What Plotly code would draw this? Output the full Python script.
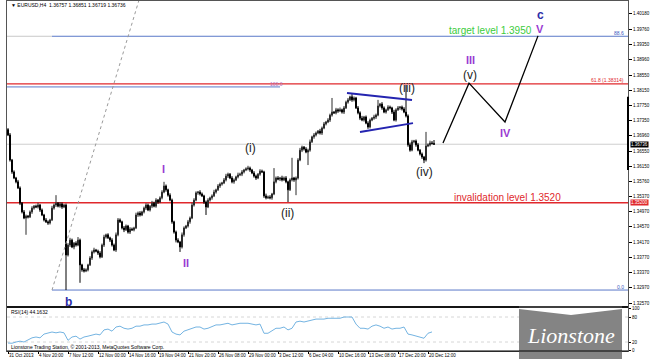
import plotly.graph_objects as go

# ---------------- data ----------------
first_open = 1.3712
closes = [
    1.3698,1.3632,1.3601,1.3585,1.3575,1.3559,1.3519,1.3496,1.3480,1.3485,
    1.3483,1.3496,1.3506,1.3511,1.3509,1.3514,1.3501,1.3488,1.3475,1.3470,
    1.3467,1.3475,1.3506,1.3514,1.3519,1.3511,1.3517,1.3509,1.3514,1.3383,
    1.3409,1.3422,1.3404,1.3414,1.3409,1.3422,1.3357,1.3344,1.3341,1.3344,
    1.3357,1.3375,1.3391,1.3396,1.3393,1.3388,1.3378,1.3409,1.3430,1.3436,
    1.3428,1.3422,1.3409,1.3396,1.3436,1.3475,1.3470,1.3454,1.3449,1.3459,
    1.3443,1.3451,1.3449,1.3454,1.3488,1.3493,1.3488,1.3496,1.3506,1.3514,
    1.3501,1.3511,1.3519,1.3511,1.3527,1.3522,1.3533,1.3548,1.3564,1.3554,
    1.3540,1.3527,1.3470,1.3443,1.3422,1.3417,1.3404,1.3436,1.3454,1.3459,
    1.3470,1.3480,1.3514,1.3527,1.3546,1.3548,1.3543,1.3538,1.3522,1.3509,
    1.3527,1.3533,1.3538,1.3548,1.3554,1.3564,1.3569,1.3572,1.3580,1.3590,
    1.3595,1.3585,1.3575,1.3580,1.3588,1.3593,1.3595,1.3601,1.3606,1.3609,
    1.3611,1.3606,1.3598,1.3590,1.3585,1.3595,1.3603,1.3601,1.3538,1.3533,
    1.3535,1.3533,1.3543,1.3575,1.3585,1.3582,1.3585,1.3580,1.3585,1.3575,
    1.3554,1.3580,1.3585,1.3580,1.3585,1.3632,1.3658,1.3666,1.3661,1.3653,
    1.3658,1.3680,1.3693,1.3698,1.3703,1.3708,1.3703,1.3716,1.3727,1.3732,
    1.3737,1.3750,1.3758,1.3756,1.3764,1.3761,1.3764,1.3758,1.3769,1.3784,
    1.3790,1.3798,1.3790,1.3795,1.3769,1.3756,1.3742,1.3737,1.3745,1.3729,
    1.3719,1.3737,1.3742,1.3745,1.3750,1.3774,1.3779,1.3769,1.3758,1.3764,
    1.3771,1.3769,1.3758,1.3737,1.3764,1.3769,1.3771,1.3766,1.3758,1.3748,
    1.3672,1.3658,1.3680,1.3682,1.3672,1.3658,1.3648,1.3640,1.3632,1.3669,
    1.3672,1.3677,1.36757,1.36736,
]
# upper / lower wick length in pips
hi_wick = [
    4,5,3,4,3,5,4,3,5,4, 3,4,5,3,4,6,3,4,3,5, 4,3,6,4,21,3,5,4,3,4,
    5,6,4,3,5,8,4,3,5,4, 3,5,4,6,3,4,5,4,6,3, 4,3,5,4,6,5,4,3,5,4,
    3,5,4,3,6,4,5,3,4,5, 4,3,6,4,5,3,4,5,11,4, 3,5,4,3,4,5,3,6,4,3,
    5,4,6,5,4,3,5,4,3,4, 5,3,4,6,3,5,4,3,5,6, 4,3,5,4,3,6,4,5,3,4,
    6,4,3,5,4,3,5,4,3,6, 4,5,3,36,4,5,3,6,4,5, 3,4,53,3,4,5,6,4,3,5,
    4,6,3,5,4,3,6,4,5,3, 5,4,37,3,5,4,6,3,5,4, 5,3,7,4,3,5,4,6,3,4,
    5,4,3,6,4,16,3,5,4,3, 5,4,3,6,4,5,3,4,5,71, 4,6,5,3,4,5,3,4,3,37,
    4,6,5,9,
]
lo_wick = [
    3,4,5,3,4,3,5,4,3,44, 4,3,5,4,3,4,5,3,4,3, 5,4,3,4,5,3,4,5,3,92,
    4,5,3,6,4,3,47,5,4,3, 4,3,5,4,3,5,4,3,5,4, 3,5,4,3,5,4,3,4,6,3,
    4,5,3,4,3,5,4,3,4,5, 3,4,5,3,4,5,3,4,3,5, 4,3,5,4,6,3,13,4,5,3,
    4,5,3,4,3,5,4,3,5,21, 3,4,5,3,4,3,5,4,3,4, 5,3,4,5,3,4,3,5,4,3,
    4,5,3,4,5,3,4,3,5,4, 3,4,5,3,4,3,5,4,3,4, 32,3,4,5,40,4,3,5,4,3,
    34,4,3,5,4,3,4,5,3,4, 3,5,4,3,4,5,3,4,5,3, 4,3,5,4,3,4,5,3,4,3,
    5,4,3,4,5,3,4,5,3,4, 3,4,5,3,4,3,5,4,3,4, 5,4,3,4,5,3,4,5,8,4,
    3,4,3,2,
]
rsi_vals = [
    17.5,17,20,22,20,25,30,32,30,39, 41,44,42,44,42,24,32,34,27,32,
    34,37,39,37,49,51,46,56,58,53, 51,53,58,58,61,61,63,63,65,68,
    63,44,39,37,46,49,53,56,56,51, 53,58,61,61,63,65,61,63,65,65,
    65,63,61,63,41,41,46,53,53,56, 49,53,68,70,68,70,73,75,75,75,
    77,77,77,77,80,80,80,63,53,53, 51,58,61,58,53,56,51,53,53,56,
    39,37,34,32,29,41,44.1632,
]
date_ticks = [0, 15, 30, 45, 60, 75, 90, 105, 120, 135, 150, 165, 180, 195, 210]
date_labels = ["31 Oct 2013", "4 Nov 20:00", "7 Nov 12:00", "12 Nov 00:00", "14 Nov 16:00",
               "19 Nov 04:00", "21 Nov 20:00", "26 Nov 08:00", "29 Nov 00:00", "3 Dec 12:00",
               "6 Dec 04:00", "10 Dec 16:00", "13 Dec 08:00", "17 Dec 20:00", "20 Dec 12:00"]
price_ticks = [1.4018, 1.3976, 1.3935, 1.3896, 1.3855, 1.3815, 1.3775, 1.3735, 1.3696, 1.3655,
               1.3615, 1.3576, 1.3537, 1.3497, 1.3457, 1.3417, 1.3377, 1.3337, 1.3297, 1.3257]
rsi_ticks = [100, 80, 20, 0]

fib_0 = 1.3291
fib_618 = 1.3832
fib_886 = 1.3957
fib_100 = 1.3824
invalidation = 1.3520
last_price = 1.36736
chan_up_x, chan_up_y = [169.5, 202], [1.3808, 1.3790]
chan_lo_x, chan_lo_y = [176, 202.5], [1.3706, 1.3729]
proj_x = [217.5, 230.5, 248.5, 265]
proj_y = [1.3677, 1.3834, 1.3732, 1.3958]
diag_x, diag_y = [22, 65.5], [1.3291, 1.4052]

# --------------- derived OHLC ---------------
n = len(closes)
bars = list(range(n))
opens = [first_open] + closes[:-1]
highs = [max(o, c) + w * 0.0001 for o, c, w in zip(opens, closes, hi_wick)]
lows = [min(o, c) - w * 0.0001 for o, c, w in zip(opens, closes, lo_wick)]
rsi_x = list(range(0, 2 * len(rsi_vals), 2))

# --------------- layout geometry ---------------
W, H = 650, 359
L, R, T, B = 7, 628, 1, 351
def px2x(px): return (px - L) / (R - L)
def px2y(py): return (B - py) / (B - T)
split = px2y(307)
XR = [-0.5, 310]
YR = [1.32465, 1.40495]

PURPLE = "#9a3ad2"
NAVY = "#2d2da8"
RED = "#e0282c"
SMALL = dict(family="Liberation Sans", size=5, color="#000")
TICKF = dict(family="Liberation Sans", size=4.5, color="#000")

fig = go.Figure()
fig.add_trace(go.Scatter(x=diag_x, y=diag_y, mode="lines",
                         line=dict(color="#9a9a9a", width=1, dash="dot"), hoverinfo="skip"))
fig.add_trace(go.Candlestick(x=bars, open=opens, high=highs, low=lows, close=closes,
                             increasing=dict(line=dict(color="#2a2a2a", width=1), fillcolor="#bdbdbd"),
                             decreasing=dict(line=dict(color="#000", width=1), fillcolor="#000"),
                             whiskerwidth=0, xaxis="x", yaxis="y"))
for xs, ys in [(chan_up_x, chan_up_y), (chan_lo_x, chan_lo_y)]:
    fig.add_trace(go.Scatter(x=xs, y=ys, mode="lines", line=dict(color="#2424b0", width=2),
                             hoverinfo="skip"))
fig.add_trace(go.Scatter(x=proj_x, y=proj_y, mode="lines", line=dict(color="#000", width=1.3),
                         hoverinfo="skip"))
fig.add_trace(go.Scatter(x=rsi_x, y=rsi_vals, mode="lines", line=dict(color="#74b4e2", width=1),
                         xaxis="x2", yaxis="y2", hoverinfo="skip"))

shapes = []
def hline(y, x0, x1, color, width, dash="solid", xref="x", yref="y"):
    shapes.append(dict(type="line", xref=xref, yref=yref, x0=x0, x1=x1, y0=y, y1=y,
                       line=dict(color=color, width=width, dash=dash), layer="below"))
hline(last_price, XR[0], XR[1], "#cfcfcf", 1)
hline(fib_886, XR[0], 22, "#c8c8c8", 1)
hline(fib_886, 22, XR[1], "#5a78c8", 1)
hline(fib_0, 22, XR[1], "#5a78c8", 1)
hline(fib_100, XR[0], 136, "#5a78c8", 1)
hline(fib_618, XR[0], XR[1], RED, 1.3)
hline(invalidation, XR[0], XR[1], RED, 1.5)
hline(80, XR[0], XR[1], "#d6d6d6", 1, "dot", "x2", "y2")
hline(20, XR[0], XR[1], "#d6d6d6", 1, "dot", "x2", "y2")
# thick segment on price scale
shapes.append(dict(type="line", xref="paper", yref="y", x0=1, x1=1, y0=1.3606, y1=1.3798,
                   line=dict(color="#000", width=2)))
# logo box
shapes.append(dict(type="rect", xref="paper", yref="paper", x0=px2x(519), x1=px2x(622),
                   y0=px2y(359), y1=px2y(306), fillcolor="#848484", line=dict(width=0), layer="above"))
chev = [(519, 306), (622, 306), (622, 309), (571, 315), (519, 309)]
path = "M " + " L ".join(f"{px2x(a):.5f},{px2y(b):.5f}" for a, b in chev) + " Z"
shapes.append(dict(type="path", xref="paper", yref="paper", path=path, fillcolor="#ffffff",
                   line=dict(width=0), layer="above"))
for py in (307, 351):
    shapes.append(dict(type="line", xref="paper", yref="paper", x0=0, x1=1, y0=px2y(py), y1=px2y(py),
                       line=dict(color="#000", width=1.5 if py == 307 else 1), layer="above"))

ann = []
def label(x, y, text, color, size, bold=False, family="Liberation Sans", xanchor="center", **kw):
    t = f"<b>{text}</b>" if bold else text
    ann.append(dict(x=x, y=y, xref=kw.pop("xref", "x"), yref=kw.pop("yref", "y"), text=t,
                    showarrow=False, xanchor=xanchor, yanchor="middle",
                    font=dict(family=family, size=size, color=color), **kw))

label(266, 1.4014, "c", NAVY, 12, True)
label(266, 1.3975, "V", PURPLE, 11, True)
label(231, 1.3895, "III", PURPLE, 11, True)
label(231, 1.3855, "(v)", "#222", 12)
label(248.5, 1.3703, "IV", PURPLE, 11, True)
label(199.5, 1.3821, "(iii)", "#222", 12)
label(208, 1.3601, "(iv)", "#222", 12)
label(121, 1.3664, "(i)", "#222", 12)
label(139.5, 1.3493, "(ii)", "#222", 12)
label(77.5, 1.3609, "I", PURPLE, 11, True)
label(89, 1.3362, "II", PURPLE, 11, True)
label(30, 1.3260, "b", NAVY, 12, True)
label(241, 1.3971, "target level 1.3950", "#3ccc3c", 10)
label(249.5, 1.3533, "invalidation level 1.3520", RED, 10)
label(309, 1.3842, "61.8 (1.38314)", RED, 5, xanchor="right")
label(309, 1.3966, "88.6", "#3a58c0", 5, xanchor="right")
label(309, 1.3299, "0.0", "#3a58c0", 5, xanchor="right")
label(134, 1.3832, "100.0", "#b070c0", 5)
# price boxes on the scale
ann.append(dict(xref="paper", yref="y", x=1.004, y=last_price, text="1.36736", showarrow=False,
                xanchor="left", yanchor="middle", bgcolor="#000", borderpad=0,
                font=dict(family="Liberation Sans", size=4.5, color="#fff")))
ann.append(dict(xref="paper", yref="y", x=1.004, y=invalidation, text="1.35200", showarrow=False,
                xanchor="left", yanchor="middle", bgcolor=RED, borderpad=0,
                font=dict(family="Liberation Sans", size=4.5, color="#fff")))
# texts in paper coordinates
label(px2x(9), px2y(5), "▼ EURUSD,H4  1.36757 1.36851 1.36719 1.36736", "#000", 5,
      xanchor="left", xref="paper", yref="paper")
label(px2x(9), px2y(312), "RSI(14) 44.1632", "#000", 5, xanchor="left", xref="paper", yref="paper")
label(px2x(9), px2y(347), "Lionstone Trading Station, © 2001-2013, MetaQuotes Software Corp.", "#000", 5,
      xanchor="left", xref="paper", yref="paper")
ann.append(dict(xref="paper", yref="paper", x=px2x(571), y=px2y(335), text="Lionstone", showarrow=False,
                xanchor="center", yanchor="middle",
                font=dict(family="Liberation Serif", size=22, color="#ffffff", style="italic")))

axis_common = dict(showgrid=False, zeroline=False, showline=True, linecolor="#555", linewidth=1,
                   mirror=True, automargin=False)
fig.update_layout(
    width=W, height=H, margin=dict(l=L, r=W - R, t=T, b=H - B, autoexpand=False),
    paper_bgcolor="#fff", plot_bgcolor="#fff", showlegend=False,
    xaxis=dict(domain=[0, 1], anchor="y", range=XR, showticklabels=False, rangeslider=dict(visible=False),
               **axis_common),
    yaxis=dict(domain=[split, 1], anchor="x", range=YR, side="right", tickvals=price_ticks,
               tickformat=".5f", ticks="outside", ticklen=3, tickcolor="#000",
               tickfont=TICKF, **axis_common),
    xaxis2=dict(domain=[0, 1], anchor="y2", range=XR, matches="x", tickvals=date_ticks,
                ticktext=date_labels, ticks="outside", ticklen=2, tickcolor="#000", tickangle=0,
                ticklabelposition="outside right", tickfont=TICKF, **axis_common),
    yaxis2=dict(domain=[0, split], anchor="x2", range=[-1.6, 104], side="right", tickvals=rsi_ticks,
                ticks="outside", ticklen=2, tickcolor="#000", tickfont=TICKF, **axis_common),
    shapes=shapes, annotations=ann,
)
fig.write_html("out.html")
